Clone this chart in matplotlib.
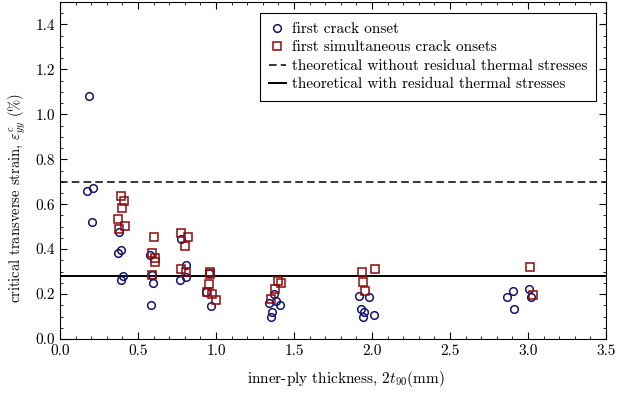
import matplotlib
matplotlib.use("Agg")
import matplotlib.pyplot as plt
from matplotlib.ticker import MultipleLocator, FormatStrFormatter

plt.rcParams["font.family"] = ["cmr10", "DejaVu Serif"]
plt.rcParams["mathtext.fontset"] = "cm"
plt.rcParams["axes.formatter.use_mathtext"] = True
plt.rcParams["font.size"] = 11

# first crack onset: inner-ply thickness (mm), critical strain (%)
first_x = [0.186, 0.175, 0.21, 0.205,
           0.38, 0.37, 0.39, 0.39, 0.405,
           0.576, 0.59, 0.597, 0.582,
           0.774, 0.81, 0.772, 0.806,
           0.955, 0.934, 0.97,
           1.34, 1.386, 1.408, 1.36, 1.35, 1.37,
           1.915, 1.983, 1.93, 1.95, 1.94, 2.015,
           2.864, 2.905, 2.911, 3.005, 3.018]
first_y = [1.08, 0.66, 0.67, 0.52,
           0.475, 0.385, 0.395, 0.262, 0.282,
           0.372, 0.285, 0.248, 0.151,
           0.444, 0.328, 0.262, 0.274,
           0.292, 0.21, 0.148,
           0.16, 0.17, 0.151, 0.121, 0.096, 0.2,
           0.192, 0.188, 0.134, 0.119, 0.099, 0.108,
           0.188, 0.213, 0.133, 0.223, 0.186]

# first simultaneous crack onsets
simul_x = [0.39, 0.41, 0.40, 0.37, 0.415, 0.375,
           0.603, 0.59, 0.608, 0.612, 0.59,
           0.778, 0.82, 0.80, 0.778, 0.81,
           0.96, 0.962, 0.955, 0.94, 0.977, 1.0,
           1.397, 1.418, 1.376, 1.354,
           1.936, 2.02, 1.945, 1.958,
           3.013, 3.03]
simul_y = [0.635, 0.615, 0.583, 0.535, 0.503, 0.49,
           0.453, 0.385, 0.362, 0.343, 0.286,
           0.474, 0.452, 0.413, 0.313, 0.3,
           0.298, 0.288, 0.243, 0.21, 0.202, 0.175,
           0.257, 0.249, 0.224, 0.178,
           0.296, 0.311, 0.252, 0.214,
           0.322, 0.195]

eps_no_thermal = 0.70
eps_thermal = 0.28

fig = plt.figure(figsize=(6.18, 3.96), dpi=100)
ax = fig.add_axes([60 / 618, 1 - 339 / 396, 546 / 618, 337 / 396])

ax.plot(first_x, first_y, linestyle="none", marker="o", markersize=5.5,
        markerfacecolor="none", markeredgecolor="#14146b", markeredgewidth=1.1,
        label="first crack onset", zorder=3)
ax.plot(simul_x, simul_y, linestyle="none", marker="s", markersize=5.5,
        markerfacecolor="none", markeredgecolor="#8b0a0a", markeredgewidth=1.1,
        label="first simultaneous crack onsets", zorder=3)
ax.axhline(eps_no_thermal, color="black", linestyle=(0, (5, 2.7)), linewidth=1.1,
           label="theoretical without residual thermal stresses")
ax.axhline(eps_thermal, color="black", linestyle="-", linewidth=1.4,
           label="theoretical with residual thermal stresses")

ax.set_xlim(0, 3.5)
ax.set_ylim(0, 1.5)
ax.xaxis.set_major_locator(MultipleLocator(0.5))
ax.xaxis.set_minor_locator(MultipleLocator(0.1))
ax.yaxis.set_major_locator(MultipleLocator(0.2))
ax.yaxis.set_minor_locator(MultipleLocator(0.05))
ax.tick_params(which="both", direction="in", top=True, right=True)
ax.tick_params(which="major", length=5, width=0.8)
ax.tick_params(which="minor", length=2.5, width=0.6)
ax.xaxis.set_major_formatter(FormatStrFormatter("%.1f"))
ax.yaxis.set_major_formatter(FormatStrFormatter("%.1f"))

ax.set_xlabel(r"inner-ply thickness, $2t_{90}$(mm)")
ax.set_ylabel(r"critical transverse strain, $\varepsilon^{c}_{yy}$ (%)", fontsize=10.5)
ax.xaxis.set_label_coords(0.524, -0.09)
ax.yaxis.set_label_coords(-0.058, 0.418)

leg = ax.legend(loc="upper right", bbox_to_anchor=(0.982, 0.967), borderaxespad=0,
                fancybox=False, edgecolor="black", framealpha=1, fontsize=11,
                handlelength=1.1, borderpad=0.6, labelspacing=0.31,
                handletextpad=0.4)
leg.get_frame().set_linewidth(0.8)

fig.savefig("out.png", dpi=100)
